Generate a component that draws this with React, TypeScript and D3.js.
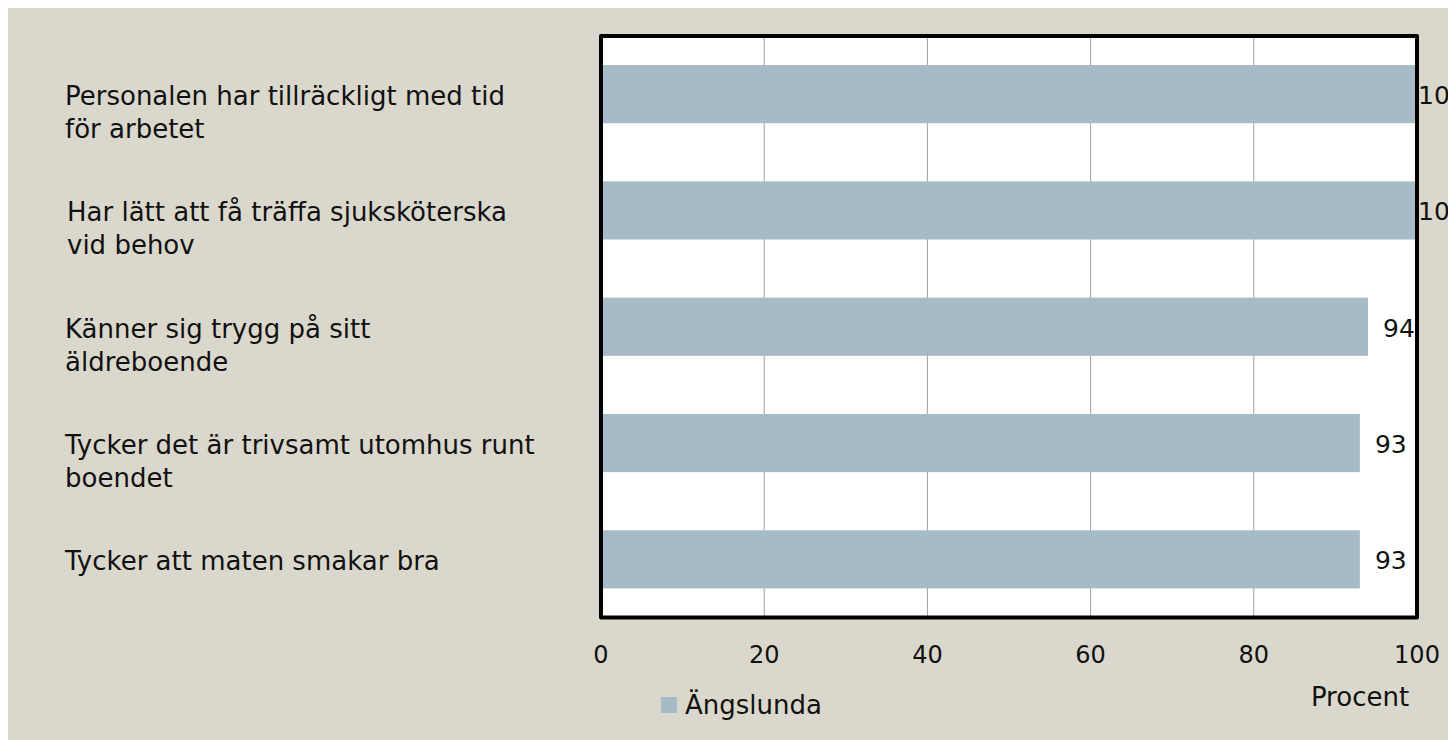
import React, { useEffect } from 'react';
import * as d3 from 'd3';

// chart data
const categories = [
  ['Personalen har tillräckligt med tid', 'för arbetet'],
  ['Har lätt att få träffa sjuksköterska', 'vid behov'],
  ['Känner sig trygg på sitt', 'äldreboende'],
  ['Tycker det är trivsamt utomhus runt', 'boendet'],
  ['Tycker att maten smakar bra'],
];
const values = [100, 100, 94, 93, 93];
const xTicks = [0, 20, 40, 60, 80, 100];
const seriesName = 'Ängslunda';
const axisTitle = 'Procent';

const W = 1448;
const H = 732;
const plot = { left: 593, right: 1409, top: 28, bottom: 609.5 };
const FONT = '"DejaVu Sans", sans-serif';
const BG = '#dad8cc';
const BAR = '#a7bbc6';

const App = () => {
  useEffect(() => {
    document.documentElement.style.overflow = 'hidden';
  }, []);

  const x = d3.scaleLinear().domain([0, 100]).range([plot.left, plot.right]);
  const y = d3
    .scaleBand<number>()
    .domain(d3.range(categories.length))
    .range([plot.top, plot.bottom])
    .paddingInner(0.5)
    .paddingOuter(0.25);

  return (
    <svg width={W} height={H} style={{ display: 'block' }} fontFamily={FONT}>
      <rect width={W} height={H} fill={BG} />
      <rect
        x={plot.left}
        y={plot.top}
        width={plot.right - plot.left}
        height={plot.bottom - plot.top}
        fill="#fff"
      />
      {/* gridlines */}
      {xTicks.slice(1, -1).map((t) => (
        <line key={t} x1={x(t)} x2={x(t)} y1={plot.top} y2={plot.bottom} stroke="#a0a0a0" strokeWidth={1} />
      ))}
      {/* bars */}
      {values.map((v, i) => (
        <rect key={i} x={x(0)} y={y(i)} width={x(v) - x(0)} height={y.bandwidth()} fill={BAR} />
      ))}
      {/* frame */}
      <rect
        x={plot.left}
        y={plot.top}
        width={plot.right - plot.left}
        height={plot.bottom - plot.top}
        fill="none"
        stroke="#000"
        strokeWidth={4}
        strokeLinejoin="round"
      />
      {/* value labels */}
      {values.map((v, i) => (
        <text
          key={i}
          x={Math.min(x(v) + 15, x(100) + 1)}
          y={y(i)! + y.bandwidth() / 2 + 10}
          fontSize={25}
          fill="#111"
        >
          {v}
        </text>
      ))}
      {/* category labels */}
      {categories.map((lines, i) => (
        <text key={i} x={57} y={y(i)! + y.bandwidth() / 2 + 11} fontSize={26} fill="#111">
          {lines.map((l, j) => (
            <tspan key={j} x={i === 1 ? 59 : 57} dy={j === 0 ? 0 : 33}>
              {l}
            </tspan>
          ))}
        </text>
      ))}
      {/* x tick labels */}
      {xTicks.map((t) => (
        <text key={t} x={x(t)} y={655} fontSize={24} textAnchor="middle" fill="#111">
          {t}
        </text>
      ))}
      <text x={1352} y={698} fontSize={26} textAnchor="middle" fill="#111">
        {axisTitle}
      </text>
      {/* legend */}
      <rect x={653} y={689} width={16} height={16} fill={BAR} />
      <text x={677} y={706} fontSize={26} fill="#111">
        {seriesName}
      </text>
    </svg>
  );
};

export default App;
